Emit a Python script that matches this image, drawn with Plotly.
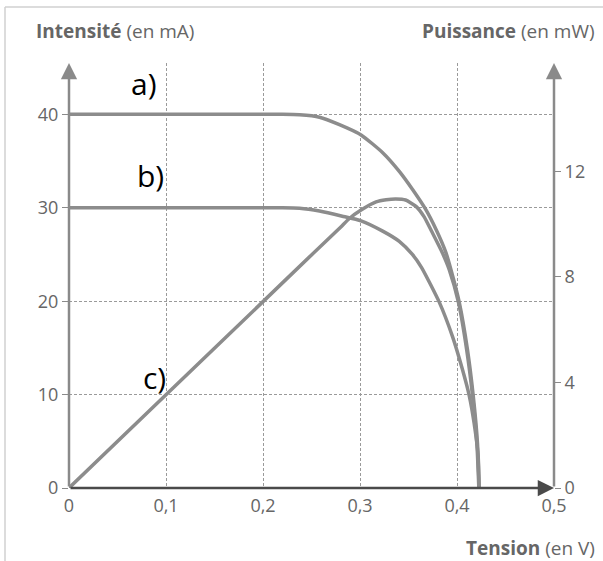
import plotly.graph_objects as go

# ---- data ----
tension_a = [0, 0.1, 0.2, 0.22, 0.2377, 0.2582, 0.2788, 0.3011, 0.3234, 0.3405, 0.3542,
             0.3673, 0.3783, 0.3886, 0.3937, 0.4023, 0.4108, 0.4167, 0.4211, 0.4228]
intensite_a = [40, 40, 40, 40, 39.95, 39.7, 38.9, 37.8, 35.9, 33.9, 31.96,
               29.9, 27.7, 25.2, 23.4, 19.9, 14.8, 9.9, 4.8, 0]

tension_b = [0, 0.1, 0.2, 0.22, 0.2377, 0.2582, 0.2818, 0.3011, 0.3234, 0.3405, 0.354,
             0.3635, 0.3817, 0.3954, 0.4057, 0.4126, 0.4177, 0.4218, 0.4228]
intensite_b = [30, 30, 30, 30, 29.95, 29.65, 29.1, 28.6, 27.5, 26.4, 25.0,
               23.6, 19.9, 16.2, 12.65, 9.9, 6.9, 3.4, 0]

tension_c = [0, 0.1, 0.2, 0.25, 0.28, 0.289, 0.3011, 0.3166, 0.327, 0.337, 0.347, 0.3577,
             0.366, 0.375, 0.385, 0.392, 0.4015, 0.41, 0.416, 0.4205, 0.4225]
puissance_c = [0, 3.53, 7.06, 8.83, 9.88, 10.21, 10.53, 10.84, 10.92, 10.95, 10.91, 10.67,
               10.28, 9.64, 8.90, 8.27, 7.03, 5.23, 3.50, 1.70, 0]

x_ticks = [0, 0.1, 0.2, 0.3, 0.4, 0.5]
x_ticktext = ["0", "0,1", "0,2", "0,3", "0,4", "0,5"]
y_ticks = [0, 10, 20, 30, 40]
y2_ticks = [0, 4, 8, 12]

X_MAX = 0.5
Y_MAX = 45.5
Y2_MAX = 16.1

W, H = 603, 561
ML, MR, MT, MB = 69, 49, 63, 73
PW, PH = W - ML - MR, H - MT - MB


def px_x(px):
    return (px - ML) / PW


def px_y(py):
    return (H - MB - py) / PH


curve_color = "#8c8c8c"
text_gray = "#666666"
font_family = "Open Sans"
line_style = dict(color=curve_color, width=3.5, shape="spline", smoothing=0.5)
tick_font = dict(size=18, color=text_gray, family=font_family)

fig = go.Figure()
fig.add_trace(go.Scatter(x=tension_a, y=intensite_a, mode="lines", line=line_style, hoverinfo="skip"))
fig.add_trace(go.Scatter(x=tension_b, y=intensite_b, mode="lines", line=line_style, hoverinfo="skip"))
fig.add_trace(go.Scatter(x=tension_c, y=puissance_c, mode="lines", yaxis="y2", line=line_style,
                         hoverinfo="skip"))

fig.update_layout(
    width=W, height=H,
    margin=dict(l=ML, r=MR, t=MT, b=MB),
    paper_bgcolor="white", plot_bgcolor="white",
    showlegend=False,
    font=dict(family=font_family, color=text_gray, size=17),
    xaxis=dict(range=[0, X_MAX], tickvals=x_ticks, ticktext=x_ticktext,
               showgrid=True, gridcolor="#9a9a9a", griddash="3px,2px", gridwidth=1,
               zeroline=False, showline=False, ticks="", ticklabelstandoff=5,
               tickfont=tick_font, fixedrange=True),
    yaxis=dict(range=[0, Y_MAX], tickvals=y_ticks,
               showgrid=True, gridcolor="#9a9a9a", griddash="3px,2px", gridwidth=1,
               zeroline=False, showline=False, ticks="outside", ticklen=6,
               tickcolor="#8a8a8a", tickwidth=1.2,
               tickfont=tick_font, fixedrange=True),
    yaxis2=dict(range=[0, Y2_MAX], tickvals=y2_ticks, overlaying="y", side="right",
                showgrid=False, zeroline=False, showline=False, ticks="outside", ticklen=6,
                tickcolor="#8a8a8a", tickwidth=1.2,
                tickfont=tick_font, fixedrange=True),
)

# axis lines with arrows
fig.add_annotation(x=0, y=Y_MAX, ax=0, ay=0, xref="x", yref="y", axref="x", ayref="y",
                   showarrow=True, arrowhead=2, arrowsize=1.3, arrowwidth=2.5,
                   arrowcolor="#8a8a8a", text="")
fig.add_annotation(x=X_MAX, y=Y_MAX, ax=X_MAX, ay=0, xref="x", yref="y", axref="x", ayref="y",
                   showarrow=True, arrowhead=2, arrowsize=1.3, arrowwidth=2.5,
                   arrowcolor="#8a8a8a", text="")
fig.add_annotation(x=X_MAX, y=0, ax=0, ay=0, xref="x", yref="y", axref="x", ayref="y",
                   showarrow=True, arrowhead=2, arrowsize=1.3, arrowwidth=2.5,
                   arrowcolor="#4a4a4a", text="")

# axis titles
fig.add_annotation(x=px_x(34), y=px_y(31), xref="paper", yref="paper", xanchor="left", yanchor="middle",
                   text="<b>Intensité</b> (en mA)", showarrow=False,
                   font=dict(size=19, color=text_gray, family=font_family))
fig.add_annotation(x=px_x(597), y=px_y(31), xref="paper", yref="paper", xanchor="right", yanchor="middle",
                   text="<b>Puissance</b> (en mW)", showarrow=False,
                   font=dict(size=19, color=text_gray, family=font_family))
fig.add_annotation(x=px_x(597), y=px_y(548), xref="paper", yref="paper", xanchor="right", yanchor="middle",
                   text="<b>Tension</b> (en V)", showarrow=False,
                   font=dict(size=19, color=text_gray, family=font_family))

# curve labels
for lab, (lx, ly) in {"a)": (143.5, 83), "b)": (150, 175.5), "c)": (154, 377.5)}.items():
    fig.add_annotation(x=px_x(lx), y=px_y(ly), xref="paper", yref="paper",
                       xanchor="center", yanchor="middle", text=lab, showarrow=False,
                       font=dict(size=30, color="black", family=font_family))

# scan border lines
fig.add_shape(type="line", xref="paper", yref="paper",
              x0=px_x(5), x1=px_x(603), y0=px_y(7), y1=px_y(7),
              line=dict(color="#d0d0d0", width=1.5))
fig.add_shape(type="line", xref="paper", yref="paper",
              x0=px_x(5), x1=px_x(5), y0=px_y(7), y1=px_y(561),
              line=dict(color="#d0d0d0", width=1.5))

fig.write_html("out.html",
               config={"displayModeBar": False},
               post_script="document.body.style.margin='0';document.body.style.padding='0';")
